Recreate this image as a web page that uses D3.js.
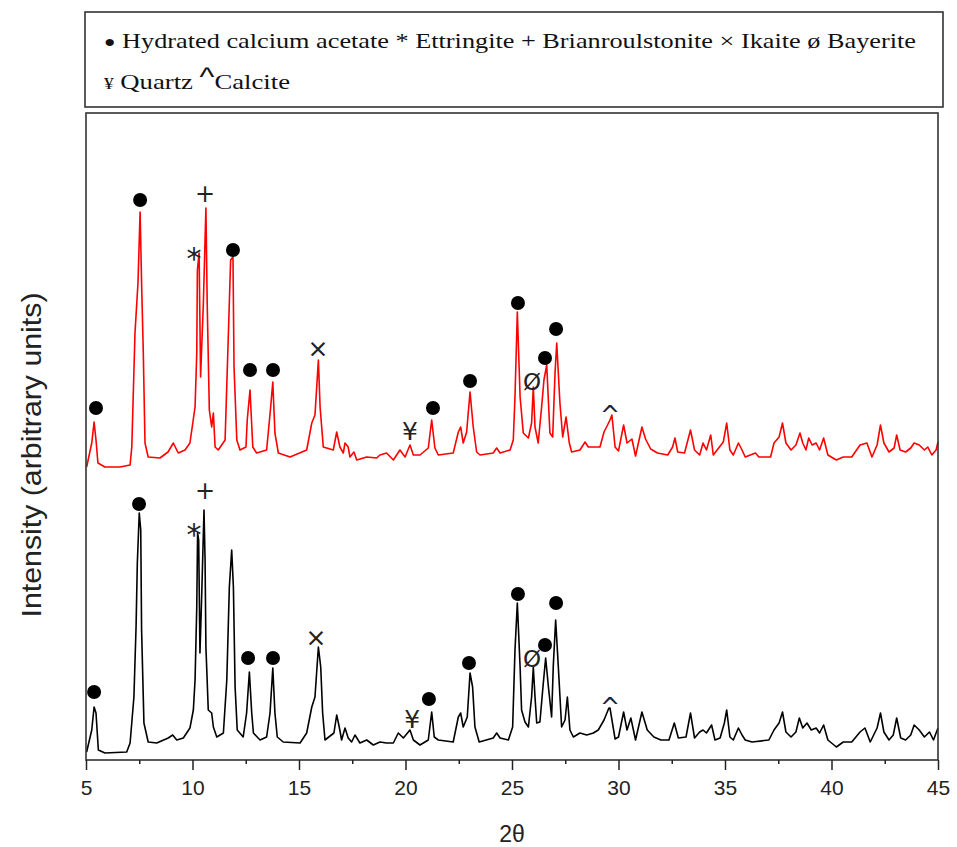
<!DOCTYPE html>
<html><head><meta charset="utf-8">
<script src="https://cdn.jsdelivr.net/npm/d3@7"></script>
<style>body{margin:0;background:#fff}</style>
</head><body>
<svg id="chart" width="957" height="847"></svg>
<script>
// ---------- DATA ----------
const xTicks = [5, 10, 15, 20, 25, 30, 35, 40, 45];
const xMinorTicks = [7.5, 12.5, 17.5, 22.5, 27.5, 32.5, 37.5, 42.5];
const xLabel = "2θ";
const yLabel = "Intensity (arbitrary units)";
const legendLine1 = " Hydrated calcium acetate * Ettringite + Brianroulstonite × Ikaite ø Bayerite";
const legendLine2a = "¥ Quartz ";
const legendLine2b = "^";
const legendLine2c = "Calcite";

// Upper (red) pattern: [2θ, intensity]
const redPattern = [
[5.03,293],[5.27,317],[5.38,338],[5.47,320],[5.56,297],[5.89,293],[6.60,293],[7.07,295],[7.15,313],[7.30,427],
[7.44,477],[7.54,548],[7.61,477],[7.69,407],[7.77,317],[7.92,303],[8.47,302],[8.85,308],[9.10,317],[9.33,307],
[9.65,310],[9.88,317],[10.12,353],[10.20,407],[10.23,490],[10.31,507],[10.38,383],[10.51,457],[10.63,552],[10.69,457],
[10.79,350],[10.90,333],[10.98,347],[11.06,313],[11.21,310],[11.53,320],[11.68,423],[11.79,500],[11.90,503],[11.95,393],
[12.08,320],[12.23,310],[12.51,313],[12.57,340],[12.70,370],[12.83,313],[13.01,307],[13.48,310],[13.67,353],[13.77,378],
[13.87,327],[14.03,307],[14.58,303],[15.36,310],[15.60,337],[15.75,345],[15.91,400],[15.99,353],[16.14,313],[16.61,310],
[16.77,328],[16.92,313],[17.08,307],[17.16,317],[17.31,313],[17.39,303],[17.58,308],[17.71,300],[18.18,303],[18.65,302],
[18.80,305],[19.11,307],[19.43,300],[19.74,310],[19.98,303],[20.21,315],[20.37,305],[20.68,305],[21.07,312],[21.23,340],
[21.38,312],[21.54,305],[22.24,307],[22.48,328],[22.59,333],[22.71,317],[22.87,328],[23.03,368],[23.18,333],[23.34,308],
[23.50,305],[24.12,307],[24.28,312],[24.44,307],[24.91,310],[25.06,320],[25.14,363],[25.25,448],[25.38,363],[25.53,327],
[25.77,322],[25.92,337],[26.00,373],[26.08,333],[26.23,317],[26.39,353],[26.50,380],[26.63,395],[26.78,327],[26.91,323],
[27.02,387],[27.10,417],[27.25,357],[27.38,323],[27.54,343],[27.69,317],[27.80,308],[28.19,310],[28.43,318],[28.58,313],
[29.13,313],[29.32,328],[29.44,333],[29.60,340],[29.69,345],[29.84,313],[30.00,309],[30.24,335],[30.40,317],[30.63,321],
[30.80,304],[31.10,333],[31.27,321],[31.51,311],[31.83,307],[32.31,305],[32.54,313],[32.65,322],[32.78,308],[33.10,307],
[33.38,330],[33.57,310],[33.81,305],[33.97,317],[34.13,310],[34.33,325],[34.45,305],[34.92,318],[35.08,337],[35.23,310],
[35.39,305],[35.63,317],[35.80,310],[35.95,303],[36.43,307],[36.59,303],[37.14,303],[37.30,317],[37.54,323],[37.70,337],
[37.86,317],[38.10,310],[38.33,315],[38.52,327],[38.65,317],[38.80,310],[38.93,322],[39.09,315],[39.28,317],[39.44,310],
[39.63,322],[39.83,305],[40.23,300],[40.55,303],[40.95,303],[41.34,315],[41.66,317],[41.90,303],[42.14,315],[42.30,335],
[42.46,317],[42.70,308],[42.94,312],[43.06,325],[43.22,310],[43.48,308],[43.72,312],[43.88,317],[44.12,315],[44.36,310],
[44.52,313],[44.71,305],[44.91,310],[45.00,318]
];

// Lower (black) pattern: [2θ, intensity]
const blackPattern = [
[5.03,8],[5.27,30],[5.38,53],[5.47,47],[5.58,10],[5.89,7],[6.91,8],[7.07,17],[7.25,63],[7.35,133],
[7.41,197],[7.50,247],[7.57,230],[7.61,130],[7.72,37],[7.92,18],[8.32,17],[8.86,22],[9.07,25],[9.26,20],
[9.57,22],[9.88,32],[10.04,50],[10.12,80],[10.20,153],[10.24,227],[10.29,220],[10.35,107],[10.43,163],[10.54,250],
[10.59,200],[10.63,113],[10.74,50],[10.90,47],[10.98,33],[11.14,23],[11.45,27],[11.61,80],[11.73,173],[11.84,210],
[11.92,173],[12.00,73],[12.10,30],[12.38,23],[12.54,47],[12.67,88],[12.78,47],[12.86,27],[13.17,20],[13.48,23],
[13.64,47],[13.77,92],[13.87,47],[13.98,23],[14.26,18],[15.05,17],[15.36,27],[15.60,53],[15.75,63],[15.91,113],
[16.02,93],[16.11,47],[16.22,20],[16.64,27],[16.77,45],[16.89,33],[17.00,20],[17.16,32],[17.31,22],[17.47,18],
[17.63,25],[17.86,17],[18.18,20],[18.49,15],[18.80,18],[19.11,17],[19.43,17],[19.66,27],[19.90,22],[20.21,30],
[20.37,20],[20.68,15],[21.07,20],[21.23,48],[21.35,23],[21.54,20],[22.24,18],[22.48,43],[22.59,47],[22.71,33],
[22.90,43],[23.03,87],[23.15,73],[23.26,33],[23.46,18],[24.12,22],[24.28,27],[24.44,22],[24.83,20],[25.03,33],
[25.14,110],[25.25,157],[25.38,93],[25.45,50],[25.61,38],[25.77,33],[25.92,63],[26.00,93],[26.08,63],[26.16,37],
[26.31,38],[26.47,77],[26.58,102],[26.71,73],[26.86,43],[26.94,95],[27.05,140],[27.17,95],[27.33,33],[27.49,40],
[27.60,63],[27.72,30],[27.88,23],[28.19,27],[28.51,25],[28.82,27],[29.05,30],[29.32,40],[29.55,52],[29.60,52],
[29.84,21],[30.00,23],[30.24,48],[30.40,30],[30.58,42],[30.80,20],[31.10,48],[31.35,30],[31.66,23],[31.99,20],
[32.37,20],[32.62,37],[32.81,22],[33.17,23],[33.38,47],[33.57,22],[33.81,28],[33.97,30],[34.13,27],[34.37,35],
[34.53,20],[34.77,22],[34.97,37],[35.08,50],[35.23,23],[35.39,20],[35.63,32],[35.80,25],[35.95,20],[36.27,18],
[37.06,20],[37.30,30],[37.54,37],[37.70,48],[37.86,28],[38.10,23],[38.33,28],[38.49,42],[38.65,32],[38.85,37],
[39.05,30],[39.28,32],[39.44,27],[39.63,35],[39.83,20],[40.23,13],[40.55,18],[40.95,18],[41.34,28],[41.57,32],
[41.82,18],[42.14,32],[42.30,47],[42.46,28],[42.70,20],[42.90,25],[43.06,42],[43.25,22],[43.48,20],[43.72,25],
[43.88,35],[44.12,30],[44.36,23],[44.60,28],[44.79,20],[44.91,27],[45.00,32]
];

// Phase markers: [2θ, intensity, symbol]
const redMarkers = [
[5.47,352,"●"],[7.54,560,"●"],[10.07,513,"*"],[10.59,567,"+"],[11.90,510,"●"],[12.70,390,"●"],
[13.78,390,"●"],[15.89,413,"×"],[20.21,330,"¥"],[21.29,352,"●"],[23.03,379,"●"],[25.28,457,"●"],
[25.94,379,"Ø"],[26.55,402,"●"],[27.07,431,"●"],[29.60,352,"^"]
];
const blackMarkers = [
[5.38,68,"●"],[7.49,256,"●"],[10.07,237,"*"],[10.59,270,"+"],[12.61,102,"●"],[13.78,102,"●"],
[15.80,124,"×"],[20.31,42,"¥"],[21.10,61,"●"],[22.98,97,"●"],[25.28,166,"●"],[25.94,102,"Ø"],
[26.55,115,"●"],[27.07,157,"●"],[29.60,60,"^"]
];

// ---------- DRAW ----------
const svg = d3.select("#chart");
const plot = {left: 86, right: 938, top: 113, bottom: 760};
const x = d3.scaleLinear().domain([5, 45]).range([plot.left, plot.right]);
const y = d3.scaleLinear().domain([0, 647]).range([plot.bottom, plot.top]);

// legend box
svg.append("rect").attr("x", 85).attr("y", 12).attr("width", 858).attr("height", 95)
  .attr("fill", "#fff").attr("stroke", "#333").attr("stroke-width", 1.6);
const serif = "'Liberation Serif', 'Times New Roman', serif";
const l1 = svg.append("text").attr("x", 104).attr("y", 48).attr("font-family", serif).attr("font-size", 22).attr("fill", "#111");
l1.append("tspan").attr("font-size", 16).attr("dy", -1).text("●");
l1.append("tspan").attr("dy", 1).text(legendLine1);
l1.attr("textLength", 812).attr("lengthAdjust", "spacingAndGlyphs");
const l2 = svg.append("text").attr("x", 104).attr("y", 89).attr("font-family", serif).attr("font-size", 22).attr("fill", "#111");
l2.append("tspan").attr("font-size", 16).text(legendLine2a.slice(0, 1));
l2.append("tspan").text(legendLine2a.slice(1));
l2.append("tspan").attr("font-family", "'Liberation Sans', Arial, sans-serif").attr("font-size", 26).attr("dy", -3).text(legendLine2b);
l2.append("tspan").attr("dy", 3).text(legendLine2c);
l2.attr("textLength", 186).attr("lengthAdjust", "spacingAndGlyphs");

// lines
const line = d3.line().x(d => x(d[0])).y(d => y(d[1]));
svg.append("path").datum(blackPattern).attr("d", line).attr("fill", "none")
  .attr("stroke", "#000").attr("stroke-width", 1.6).attr("stroke-linejoin", "round");
svg.append("path").datum(redPattern).attr("d", line).attr("fill", "none")
  .attr("stroke", "#ff0000").attr("stroke-width", 1.6).attr("stroke-linejoin", "round");

// markers
const symStyle = {
  "*": {size: 30, dy: 11},
  "+": {size: 24, dy: 1},
  "×": {size: 25, dy: 1},
  "¥": {size: 25, dy: 1},
  "Ø": {size: 23, dy: 1},
  "^": {size: 24, dy: 7}
};
function drawMarkers(list) {
  const g = svg.append("g");
  list.forEach(([t, v, s]) => {
    if (s === "●") {
      g.append("circle").attr("cx", x(t)).attr("cy", y(v)).attr("r", 7).attr("fill", "#000");
    } else {
      const st = symStyle[s];
      g.append("text").attr("x", x(t)).attr("y", y(v)).attr("dy", st.dy)
        .attr("text-anchor", "middle").attr("dominant-baseline", "central")
        .attr("font-family", "'DejaVu Sans', 'Liberation Sans', sans-serif").attr("font-size", st.size)
        .attr("fill", "#222").text(s);
    }
  });
}
drawMarkers(redMarkers);
drawMarkers(blackMarkers);

// frame
svg.append("rect").attr("x", plot.left).attr("y", plot.top)
  .attr("width", plot.right - plot.left).attr("height", plot.bottom - plot.top)
  .attr("fill", "none").attr("stroke", "#333").attr("stroke-width", 1.6);

// x axis
const sans = "'Liberation Sans', Arial, sans-serif";
const ax = svg.append("g").attr("transform", `translate(0,${plot.bottom})`)
  .call(d3.axisBottom(x).tickValues(xTicks).tickSize(10).tickPadding(10).tickFormat(d3.format("d")));
ax.select(".domain").remove();
ax.selectAll("line").attr("stroke", "#222").attr("stroke-width", 1.5);
ax.selectAll("text").attr("font-family", sans).attr("font-size", 21).attr("fill", "#222");
const axm = svg.append("g").attr("transform", `translate(0,${plot.bottom})`)
  .call(d3.axisBottom(x).tickValues(xMinorTicks).tickSize(4).tickFormat(""));
axm.select(".domain").remove();
axm.selectAll("line").attr("stroke", "#222").attr("stroke-width", 1.5);

// axis titles
svg.append("text").attr("x", 512).attr("y", 842).attr("text-anchor", "middle")
  .attr("font-family", sans).attr("font-size", 23).attr("fill", "#222").text(xLabel);
svg.append("text").attr("transform", "translate(41,455) rotate(-90)").attr("text-anchor", "middle")
  .attr("font-family", sans).attr("font-size", 28).attr("fill", "#222")
  .attr("textLength", 325).attr("lengthAdjust", "spacingAndGlyphs").text(yLabel);
</script>
</body></html>
